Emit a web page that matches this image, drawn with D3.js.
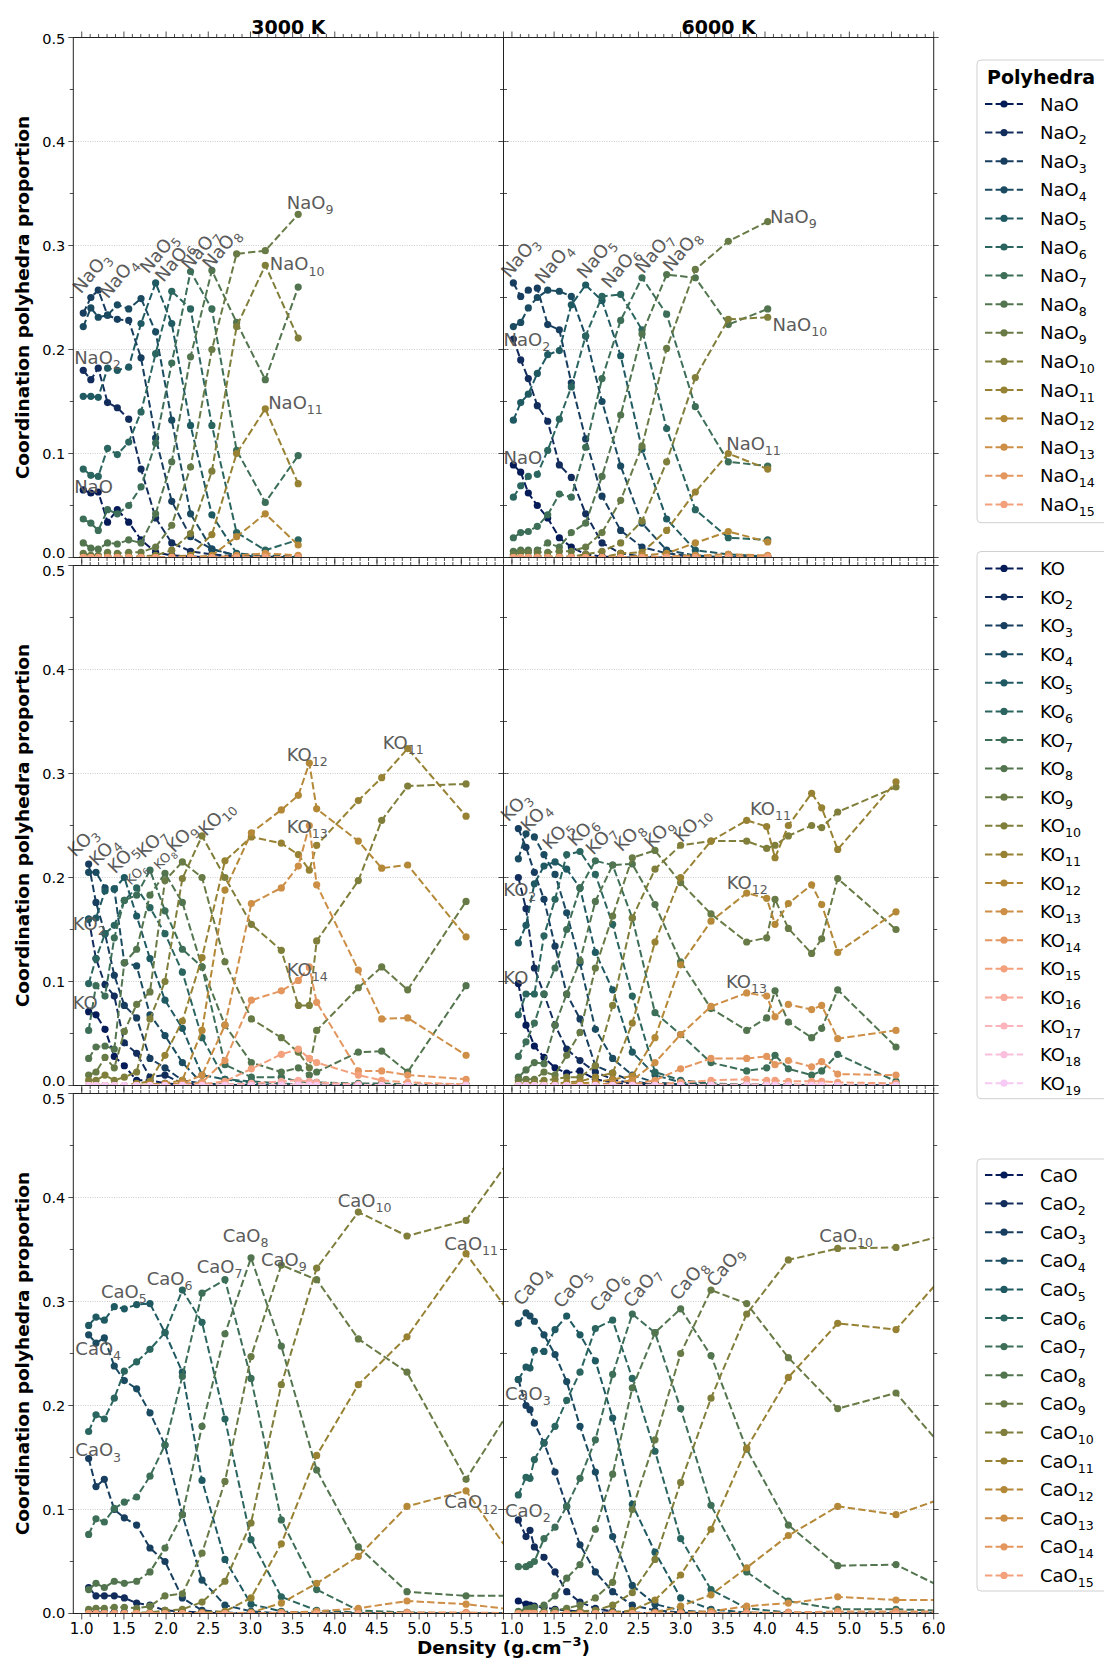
<!DOCTYPE html>
<html><head><meta charset="utf-8">
<script src="https://cdn.jsdelivr.net/npm/d3@7"></script>
<style>body{margin:0;background:#fff}</style>
</head><body>
<svg id="chart" width="1104" height="1660" xmlns="http://www.w3.org/2000/svg"></svg>
<script>
// ---------------- DATA ----------------
const xNa3000 = [1.018,1.108,1.196,1.306,1.422,1.557,1.703,1.876,2.067,2.29,2.543,2.836,3.176,3.566];
const na3000 = [
 [0.065,0.062,0.063,0.034,0.046,0.034,0.017,0.005,0.002,0.001,0,0,0,0],
 [0.180,0.171,0.182,0.149,0.144,0.133,0.085,0.038,0.014,0.006,0.003,0.001,0,0],
 [0.235,0.250,0.257,0.233,0.229,0.228,0.192,0.115,0.054,0.020,0.008,0.002,0.001,0],
 [0.222,0.240,0.231,0.233,0.243,0.239,0.249,0.217,0.132,0.042,0.008,0.002,0,0],
 [0.155,0.155,0.154,0.182,0.180,0.183,0.225,0.264,0.225,0.127,0.041,0.004,0.002,0.001],
 [0.085,0.079,0.078,0.105,0.099,0.111,0.140,0.196,0.256,0.239,0.127,0.024,0.007,0.017],
 [0.037,0.033,0.026,0.046,0.042,0.050,0.068,0.110,0.187,0.275,0.239,0.103,0.053,0.098],
 [0.014,0.009,0.008,0.014,0.013,0.017,0.014,0.042,0.092,0.193,0.276,0.226,0.171,0.260],
 [0.004,0.002,0.002,0.005,0.004,0.005,0.005,0.010,0.031,0.087,0.200,0.292,0.295,0.330],
 [0,0,0,0.001,0.001,0.001,0.001,0.002,0.007,0.023,0.083,0.222,0.281,0.211],
 [0,0,0,0,0,0,0,0,0.001,0.002,0.022,0.100,0.143,0.071],
 [0,0,0,0,0,0,0,0,0,0,0.002,0.020,0.042,0.012],
 [0,0,0,0,0,0,0,0,0,0,0,0.002,0.004,0.002],
 [0,0,0,0,0,0,0,0,0,0,0,0,0.001,0],
 [0,0,0,0,0,0,0,0,0,0,0,0,0,0]
];
const xNa6000 = [1.017,1.104,1.194,1.301,1.424,1.562,1.704,1.874,2.068,2.289,2.542,2.834,3.174,3.565,4.032];
const na6000 = [
 [0.089,0.082,0.062,0.050,0.038,0.019,0.010,0.003,0.001,0,0,0,0,0,0],
 [0.210,0.190,0.172,0.146,0.131,0.089,0.077,0.042,0.014,0.004,0.001,0,0,0,0],
 [0.264,0.251,0.257,0.259,0.224,0.219,0.168,0.114,0.059,0.026,0.010,0.004,0.001,0,0],
 [0.222,0.226,0.240,0.250,0.257,0.256,0.251,0.213,0.150,0.088,0.033,0.007,0.002,0,0],
 [0.132,0.149,0.157,0.177,0.195,0.199,0.243,0.262,0.247,0.194,0.104,0.037,0.007,0.003,0.001],
 [0.058,0.069,0.078,0.080,0.103,0.133,0.164,0.213,0.251,0.253,0.219,0.124,0.046,0.019,0.017],
 [0.019,0.024,0.025,0.030,0.041,0.061,0.058,0.106,0.172,0.228,0.269,0.234,0.145,0.092,0.088],
 [0.006,0.007,0.007,0.007,0.014,0.010,0.024,0.033,0.078,0.137,0.215,0.272,0.269,0.224,0.239],
 [0.003,0.005,0.005,0.005,0.005,0.006,0.006,0.010,0.024,0.055,0.107,0.201,0.277,0.304,0.323],
 [0,0,0,0.001,0.001,0.001,0.001,0.003,0.006,0.014,0.035,0.092,0.173,0.229,0.231],
 [0,0,0,0,0,0,0,0,0,0.004,0.005,0.026,0.063,0.100,0.085],
 [0,0,0,0,0,0,0,0,0,0,0.002,0.004,0.014,0.025,0.015],
 [0,0,0,0,0,0,0,0,0,0,0,0.001,0.002,0.003,0.002],
 [0,0,0,0,0,0,0,0,0,0,0,0,0,0.001,0.001],
 [0,0,0,0,0,0,0,0,0,0,0,0,0,0,0]
];
const xK3000 = [1.082,1.169,1.276,1.386,1.505,1.651,1.809,1.987,2.193,2.426,2.698,3.011,3.366,3.568,3.698,3.785,4.279,4.556,4.864,5.556];
const k3000 = [
 [0.071,0.068,0.054,0.028,0.019,0.005,0.005,0.002,0.001,0,0,0,0,0,0,0,0,0,0,0],
 [0.160,0.122,0.097,0.086,0.041,0.031,0.008,0.010,0.002,0.001,0,0,0,0,0,0,0,0,0,0],
 [0.213,0.176,0.146,0.106,0.077,0.065,0.026,0.017,0.005,0.002,0,0,0,0,0,0,0,0,0,0],
 [0.205,0.205,0.190,0.189,0.118,0.115,0.068,0.048,0.022,0.002,0.001,0,0,0,0,0,0,0,0,0],
 [0.160,0.161,0.187,0.189,0.200,0.163,0.122,0.082,0.055,0.010,0.006,0.002,0,0,0,0,0,0,0,0],
 [0.098,0.122,0.146,0.154,0.178,0.190,0.171,0.146,0.109,0.046,0.006,0.004,0.002,0.001,0,0,0,0,0,0],
 [0.053,0.096,0.086,0.142,0.178,0.183,0.207,0.168,0.131,0.114,0.020,0.008,0.008,0.004,0.003,0.003,0.002,0.002,0.001,0.001],
 [0.026,0.037,0.038,0.035,0.118,0.131,0.183,0.204,0.176,0.114,0.058,0.022,0.013,0.017,0.010,0.013,0.032,0.033,0.013,0.096],
 [0.010,0.013,0.027,0.017,0.052,0.078,0.090,0.197,0.215,0.200,0.119,0.064,0.046,0.032,0.017,0.053,0.094,0.114,0.092,0.177],
 [0.005,0.005,0.010,0.005,0.008,0.013,0.064,0.100,0.199,0.240,0.200,0.155,0.130,0.077,0.077,0.139,0.197,0.255,0.288,0.290],
 [0,0,0,0,0,0.002,0.004,0.029,0.062,0.123,0.216,0.239,0.233,0.222,0.207,0.231,0.274,0.296,0.324,0.259],
 [0,0,0,0,0,0,0.001,0.002,0.005,0.053,0.188,0.243,0.265,0.279,0.310,0.266,0.235,0.209,0.212,0.143],
 [0,0,0,0,0,0,0,0.001,0.002,0.010,0.058,0.175,0.190,0.211,0.250,0.193,0.111,0.064,0.065,0.029],
 [0,0,0,0,0,0,0,0,0.001,0.003,0.024,0.082,0.091,0.101,0.114,0.080,0.014,0.014,0.010,0.006],
 [0,0,0,0,0,0,0,0,0,0.001,0.004,0.016,0.030,0.035,0.026,0.022,0.010,0.005,0.003,0.001],
 [0,0,0,0,0,0,0,0,0,0,0.001,0.002,0.004,0.005,0.004,0.003,0.001,0,0,0],
 [0,0,0,0,0,0,0,0,0,0,0,0,0.001,0.001,0.001,0,0,0,0,0],
 [0,0,0,0,0,0,0,0,0,0,0,0,0,0,0,0,0,0,0,0],
 [0,0,0,0,0,0,0,0,0,0,0,0,0,0,0,0,0,0,0,0]
];
const xK6000 = [1.076,1.167,1.266,1.38,1.511,1.649,1.807,1.989,2.194,2.427,2.696,3.0,3.36,3.783,4.02,4.119,4.277,4.553,4.672,4.862,5.553];
const k6000 = [
 [0.098,0.058,0.038,0.027,0.017,0.012,0.014,0.006,0.003,0.001,0,0,0,0,0,0,0,0,0,0,0],
 [0.200,0.170,0.113,0.088,0.058,0.035,0.024,0.013,0.006,0.002,0.001,0,0,0,0,0,0,0,0,0,0],
 [0.247,0.229,0.205,0.179,0.134,0.088,0.064,0.019,0.012,0.004,0.001,0,0,0,0,0,0,0,0,0,0],
 [0.218,0.242,0.239,0.222,0.203,0.166,0.118,0.054,0.026,0.010,0.003,0.001,0,0,0,0,0,0,0,0,0],
 [0.137,0.154,0.194,0.211,0.215,0.208,0.190,0.128,0.092,0.032,0.010,0.003,0.001,0,0,0,0,0,0,0,0],
 [0.068,0.088,0.088,0.144,0.179,0.222,0.225,0.203,0.155,0.086,0.013,0.005,0.002,0.001,0.001,0.001,0.001,0,0,0,0],
 [0.028,0.042,0.060,0.088,0.113,0.150,0.190,0.216,0.212,0.161,0.070,0.049,0.022,0.014,0.017,0.029,0.016,0.010,0.014,0.030,0.004],
 [0.008,0.015,0.022,0.021,0.058,0.088,0.120,0.177,0.212,0.213,0.174,0.119,0.074,0.053,0.065,0.091,0.061,0.046,0.055,0.092,0.037],
 [0.005,0.006,0.006,0.013,0.010,0.029,0.051,0.113,0.163,0.219,0.226,0.195,0.165,0.138,0.142,0.179,0.151,0.127,0.141,0.199,0.150],
 [0.001,0.002,0.003,0.005,0.006,0.008,0.008,0.019,0.077,0.161,0.208,0.231,0.235,0.235,0.228,0.231,0.240,0.250,0.248,0.263,0.287],
 [0,0,0,0.001,0.002,0.003,0.004,0.008,0.012,0.060,0.138,0.200,0.235,0.255,0.249,0.219,0.250,0.281,0.267,0.227,0.292],
 [0,0,0,0,0,0.001,0.002,0.003,0.006,0.009,0.046,0.116,0.158,0.185,0.180,0.155,0.175,0.193,0.174,0.128,0.167],
 [0,0,0,0,0,0,0,0.001,0.002,0.005,0.022,0.049,0.076,0.089,0.086,0.066,0.078,0.073,0.077,0.045,0.053],
 [0,0,0,0,0,0,0,0,0,0.001,0.005,0.016,0.026,0.026,0.028,0.020,0.024,0.018,0.023,0.011,0.010],
 [0,0,0,0,0,0,0,0,0,0,0.001,0.003,0.005,0.006,0.005,0.005,0.004,0.004,0.004,0.003,0.002],
 [0,0,0,0,0,0,0,0,0,0,0,0,0.001,0.001,0.001,0.001,0.001,0.001,0.001,0,0],
 [0,0,0,0,0,0,0,0,0,0,0,0,0,0,0,0,0,0,0,0,0],
 [0,0,0,0,0,0,0,0,0,0,0,0,0,0,0,0,0,0,0,0,0],
 [0,0,0,0,0,0,0,0,0,0,0,0,0,0,0,0,0,0,0,0,0]
];
const xCa3000 = [1.082,1.169,1.268,1.386,1.505,1.651,1.809,1.987,2.193,2.426,2.698,3.007,3.366,3.785,4.279,4.856,5.556,6.4];
const ca3000 = [
 [0.002,0.001,0.001,0.001,0.001,0,0,0,0,0,0,0,0,0,0,0,0,0],
 [0.025,0.017,0.017,0.017,0.015,0.010,0.008,0.003,0.002,0.001,0,0,0,0,0,0,0,0],
 [0.149,0.122,0.129,0.100,0.092,0.085,0.063,0.050,0.015,0.003,0.001,0,0,0,0,0,0,0],
 [0.268,0.260,0.265,0.238,0.224,0.216,0.193,0.162,0.095,0.032,0.008,0.002,0,0,0,0,0,0],
 [0.277,0.285,0.282,0.295,0.293,0.297,0.298,0.270,0.232,0.128,0.052,0.009,0.002,0,0,0,0,0],
 [0.175,0.191,0.187,0.207,0.233,0.242,0.254,0.270,0.311,0.280,0.187,0.071,0.016,0.003,0.001,0,0,0],
 [0.076,0.091,0.088,0.101,0.107,0.112,0.132,0.162,0.228,0.308,0.321,0.226,0.090,0.023,0.003,0.001,0,0],
 [0.023,0.029,0.025,0.031,0.029,0.031,0.040,0.063,0.095,0.180,0.269,0.342,0.257,0.138,0.064,0.021,0.017,0.017],
 [0.004,0.005,0.005,0.006,0.006,0.005,0.007,0.017,0.019,0.058,0.127,0.247,0.335,0.321,0.264,0.232,0.129,0.237],
 [0,0,0,0,0,0.001,0.001,0.003,0.004,0.011,0.031,0.087,0.220,0.332,0.386,0.363,0.378,0.473],
 [0,0,0,0,0,0,0,0,0,0.001,0.002,0.015,0.067,0.152,0.220,0.266,0.346,0.253],
 [0,0,0,0,0,0,0,0,0,0,0,0.001,0.010,0.029,0.055,0.103,0.118,0.021],
 [0,0,0,0,0,0,0,0,0,0,0,0,0.001,0.002,0.005,0.012,0.009,0.001],
 [0,0,0,0,0,0,0,0,0,0,0,0,0,0,0,0.001,0.001,0],
 [0,0,0,0,0,0,0,0,0,0,0,0,0,0,0,0,0,0]
];
const xCa6000 = [1.076,1.167,1.214,1.266,1.38,1.511,1.649,1.807,1.989,2.194,2.427,2.696,3.0,3.36,3.783,4.277,4.862,5.553,6.4];
const ca6000 = [
 [0.012,0.009,0.008,0.007,0.006,0.004,0.003,0.002,0.001,0.001,0,0,0,0,0,0,0,0,0],
 [0.090,0.074,0.080,0.064,0.054,0.040,0.021,0.011,0.005,0.002,0.001,0,0,0,0,0,0,0,0],
 [0.225,0.200,0.196,0.183,0.164,0.136,0.103,0.066,0.040,0.021,0.008,0.003,0.001,0,0,0,0,0,0],
 [0.279,0.289,0.286,0.281,0.268,0.249,0.223,0.180,0.136,0.074,0.027,0.009,0.003,0.001,0,0,0,0,0],
 [0.225,0.237,0.236,0.253,0.252,0.273,0.286,0.268,0.243,0.188,0.105,0.059,0.015,0.004,0.001,0,0,0,0],
 [0.114,0.131,0.130,0.148,0.164,0.180,0.205,0.232,0.274,0.282,0.226,0.156,0.072,0.023,0.005,0.001,0,0,0],
 [0.045,0.045,0.047,0.050,0.072,0.083,0.103,0.130,0.167,0.230,0.288,0.270,0.197,0.104,0.040,0.012,0.004,0.004,0.002],
 [0.002,0.004,0.005,0.006,0.008,0.017,0.034,0.047,0.081,0.134,0.217,0.270,0.293,0.248,0.158,0.085,0.046,0.047,0.013],
 [0,0.001,0.001,0.001,0.002,0.003,0.005,0.008,0.015,0.030,0.100,0.167,0.250,0.311,0.298,0.246,0.197,0.212,0.132],
 [0,0,0,0,0,0,0.001,0.002,0.003,0.008,0.020,0.052,0.126,0.207,0.288,0.340,0.351,0.352,0.369],
 [0,0,0,0,0,0,0,0,0,0.001,0.003,0.013,0.037,0.081,0.159,0.227,0.279,0.273,0.351],
 [0,0,0,0,0,0,0,0,0,0,0,0.001,0.007,0.018,0.044,0.075,0.103,0.095,0.119],
 [0,0,0,0,0,0,0,0,0,0,0,0,0.001,0.002,0.007,0.010,0.016,0.013,0.013],
 [0,0,0,0,0,0,0,0,0,0,0,0,0,0,0.001,0.001,0.002,0.002,0.002],
 [0,0,0,0,0,0,0,0,0,0,0,0,0,0,0,0,0,0,0]
];
// curve labels: [coordination number, x, y, rotated, small]
const labNa3000 = [[1,0.91,0.062,0],[2,0.91,0.186,0],[3,0.99,0.253,1],[4,1.31,0.248,1],[5,1.79,0.272,1],[6,1.97,0.264,1],[7,2.28,0.275,1],[8,2.53,0.276,1],[9,3.43,0.335,0],[10,3.23,0.276,0],[11,3.21,0.143,0]];
const labNa6000 = [[1,0.9,0.09,0],[2,0.9,0.203,0],[3,0.97,0.268,1],[4,1.37,0.262,1],[5,1.87,0.267,1],[6,2.16,0.258,1],[7,2.56,0.272,1],[8,2.89,0.274,1],[9,4.06,0.322,0],[10,4.09,0.218,0],[11,3.54,0.103,0]];
const labK3000 = [[1,0.893,0.074,0],[2,0.893,0.15,0],[3,0.924,0.219,1],[4,1.177,0.21,1],[5,1.398,0.203,1],[6,1.584,0.192,1,1],[7,1.742,0.218,1],[8,1.92,0.207,1,1],[9,2.097,0.223,1],[10,2.473,0.239,1],[11,4.568,0.324,0],[12,3.43,0.312,0],[13,3.43,0.243,0],[14,3.43,0.105,0]];
const labK6000 = [[1,0.898,0.098,0],[2,0.898,0.182,0],[3,0.957,0.253,1],[4,1.194,0.243,1],[5,1.451,0.226,1],[6,1.748,0.229,1],[7,1.965,0.221,1],[8,2.301,0.224,1],[9,2.657,0.227,1],[10,3.013,0.233,1],[11,3.822,0.26,0],[12,3.546,0.189,0],[13,3.538,0.094,0]];
const labCa3000 = [[3,0.924,0.151,0],[4,0.924,0.249,0],[5,1.228,0.303,0],[6,1.77,0.316,0],[7,2.363,0.327,0],[8,2.671,0.357,0],[9,3.125,0.334,0],[10,4.034,0.391,0],[11,5.298,0.35,0],[12,5.298,0.101,0]];
const labCa6000 = [[2,0.918,0.093,0],[3,0.918,0.205,0],[4,1.116,0.295,1],[5,1.59,0.2925,1],[6,2.024,0.289,1],[7,2.42,0.293,1],[8,2.972,0.30,1],[9,3.407,0.313,1],[10,4.644,0.3575,0]];
const xTicks = [1.0,1.5,2.0,2.5,3.0,3.5,4.0,4.5,5.0,5.5,6.0];
const yTicks = [0.0,0.1,0.2,0.3,0.4,0.5];
const colTitles = ["3000 K","6000 K"];
const elements = ["Na","K","Ca"];
const legendCounts = [15,19,15];
const palette = ["#061c58","#122d5c","#173d5f","#1a4b61","#1f5962","#2b655f","#3c6e58","#52754f","#687a45","#7f7e3a","#978233","#b38837","#cd8e46","#e4965f","#f3a07c","#f9aa9c","#fbb4bc","#f9bfdc","#f6caf4"];

// ---------------- LAYOUT ----------------
const svg = d3.select("#chart");
const FONT = "'DejaVu Sans', sans-serif";
const colX = [73.3, 503.5], panelW = 430.2;
const rowY = [37.5, 565.5, 1093.5], panelH = 520;
const color = d3.scaleOrdinal().domain(d3.range(19)).range(palette);

const panels = [
 {r:0,c:0,x:xNa3000,data:na3000,el:"Na",lab:labNa3000,rot:-50},
 {r:0,c:1,x:xNa6000,data:na6000,el:"Na",lab:labNa6000,rot:-50},
 {r:1,c:0,x:xK3000,data:k3000,el:"K",lab:labK3000,rot:-45},
 {r:1,c:1,x:xK6000,data:k6000,el:"K",lab:labK6000,rot:-45},
 {r:2,c:0,x:xCa3000,data:ca3000,el:"Ca",lab:labCa3000,rot:-50},
 {r:2,c:1,x:xCa6000,data:ca6000,el:"Ca",lab:labCa6000,rot:-50}
];

function formula(g, el, n, size){
  g.append("tspan").text(el+"O");
  if(n>1) g.append("tspan").attr("font-size", size*0.7).attr("dy", size*0.28).text(n);
}

const defs = svg.append("defs");
panels.forEach((p,pi)=>{
  const x0 = colX[p.c], y0 = rowY[p.r];
  const xs = d3.scaleLinear().domain([0.9,6.0]).range([x0, x0+panelW]);
  const ys = d3.scaleLinear().domain([0,0.5]).range([y0+panelH, y0]);
  const g = svg.append("g");
  defs.append("clipPath").attr("id","clip"+pi).append("rect")
    .attr("x",x0).attr("y",y0).attr("width",panelW).attr("height",panelH);
  g.selectAll(".grid").data([0.1,0.2,0.3,0.4]).enter().append("line")
    .attr("x1",x0).attr("x2",x0+panelW).attr("y1",d=>ys(d)).attr("y2",d=>ys(d))
    .attr("stroke","#b0b0b0").attr("stroke-width",0.8).attr("stroke-dasharray","0.8,1.6");
  const sg = g.append("g").attr("clip-path","url(#clip"+pi+")");
  p.data.forEach((vals,i)=>{
    const pts = vals.map((v,j)=>[p.x[j],v]);
    const line = d3.line().x(d=>xs(d[0])).y(d=>ys(d[1]));
    const s = sg.append("g");
    s.append("path").attr("d",line(pts)).attr("fill","none").attr("stroke",color(i))
      .attr("stroke-width",2).attr("stroke-dasharray","7.4,3.2");
    s.selectAll("circle").data(pts).enter().append("circle")
      .attr("cx",d=>xs(d[0])).attr("cy",d=>ys(d[1])).attr("r",3.6).attr("fill",color(i));
  });
  p.lab.forEach(l=>{
    const size = l[4] ? 13 : 18;
    const t = g.append("text").attr("font-family",FONT).attr("font-size",size).attr("fill","#5b5b5b")
      .attr("x",xs(l[1])).attr("y",ys(l[2]));
    if(l[3]) t.attr("transform",`rotate(${p.rot},${xs(l[1])},${ys(l[2])})`);
    formula(t,p.el,l[0],size);
  });
  g.append("rect").attr("x",x0).attr("y",y0).attr("width",panelW).attr("height",panelH)
    .attr("fill","none").attr("stroke","#222").attr("stroke-width",1);
  const xMinor = d3.range(10,61).map(d=>d/10);
  const tg = g.append("g").attr("stroke","#222").attr("stroke-width",0.8);
  xMinor.forEach(v=>{
    const major = Math.abs(v*2-Math.round(v*2))<1e-6;
    const L = major?6:3.5;
    tg.append("line").attr("x1",xs(v)).attr("x2",xs(v)).attr("y1",y0+panelH).attr("y2",y0+panelH+L);
    tg.append("line").attr("x1",xs(v)).attr("x2",xs(v)).attr("y1",y0).attr("y2",y0-L);
  });
  d3.range(0,11).map(d=>d*0.05).forEach((v,k)=>{
    const L = (k%2===0)?5:3.5;
    tg.append("line").attr("x1",x0).attr("x2",x0-L).attr("y1",ys(v)).attr("y2",ys(v));
    tg.append("line").attr("x1",x0+panelW).attr("x2",x0+panelW+L).attr("y1",ys(v)).attr("y2",ys(v));
  });
  if(p.c===0){
    yTicks.forEach(v=>{
      let off = 0;
      if(v===0) off = p.r===2 ? -1 : -4.5;
      if(v===0.5) off = p.r===0 ? 1 : 5;
      svg.append("text").attr("font-family",FONT).attr("font-size",14.5).attr("fill","#000")
        .attr("x",x0-8).attr("y",ys(v)+off).attr("dy","0.36em").attr("text-anchor","end").text(v.toFixed(1));
    });
    svg.append("text").attr("font-family",FONT).attr("font-size",18.5).attr("font-weight","bold")
      .attr("transform",`translate(${23},${y0+panelH/2}) rotate(-90)`).attr("text-anchor","middle")
      .attr("dy","0.35em").text("Coordination polyhedra proportion");
  }
  if(p.r===2){
    xTicks.forEach(v=>{
      if(p.c===0 && v===6.0) return;
      svg.append("text").attr("font-family",FONT).attr("font-size",15).attr("fill","#000")
        .attr("x",xs(v)).attr("y",y0+panelH+9).attr("dy","0.78em").attr("text-anchor","middle").text(v.toFixed(1));
    });
  }
  if(p.r===0){
    svg.append("text").attr("font-family",FONT).attr("font-size",19).attr("font-weight","bold")
      .attr("x",x0+panelW/2).attr("y",34).attr("text-anchor","middle").text(colTitles[p.c]);
  }
});
const xl = svg.append("text").attr("font-family",FONT).attr("font-size",18.5).attr("font-weight","bold")
  .attr("x",colX[1]).attr("y",1654).attr("text-anchor","middle");
xl.append("tspan").text("Density (g.cm");
xl.append("tspan").attr("font-size",13).attr("dy",-8).text("\u22123");
xl.append("tspan").attr("dy",8).text(")");

const legBoxes = [{top:60,bottom:522.7,first:104,title:true},{top:551.5,bottom:1098.7,first:568.4},{top:1159,bottom:1591,first:1175}];
legBoxes.forEach((b,li)=>{
  const el = elements[li], n = legendCounts[li];
  const g = svg.append("g");
  g.append("rect").attr("x",977).attr("y",b.top).attr("width",140).attr("height",b.bottom-b.top)
    .attr("rx",4).attr("fill","#fff").attr("fill-opacity",0.8).attr("stroke","#d0d0d0").attr("stroke-width",1);
  if(b.title) g.append("text").attr("font-family",FONT).attr("font-size",19).attr("font-weight","bold")
    .attr("x",987).attr("y",83.5).text("Polyhedra");
  const step = 28.6;
  d3.range(n).forEach(i=>{
    const y = b.first + i*step;
    g.append("line").attr("x1",985).attr("x2",1023).attr("y1",y).attr("y2",y)
      .attr("stroke",color(i)).attr("stroke-width",2).attr("stroke-dasharray","7.4,3.2");
    g.append("circle").attr("cx",1004).attr("cy",y).attr("r",3.6).attr("fill",color(i));
    const t = g.append("text").attr("font-family",FONT).attr("font-size",18).attr("x",1040).attr("y",y+6.5);
    formula(t,el,i+1,18);
  });
});
</script>
</body></html>
